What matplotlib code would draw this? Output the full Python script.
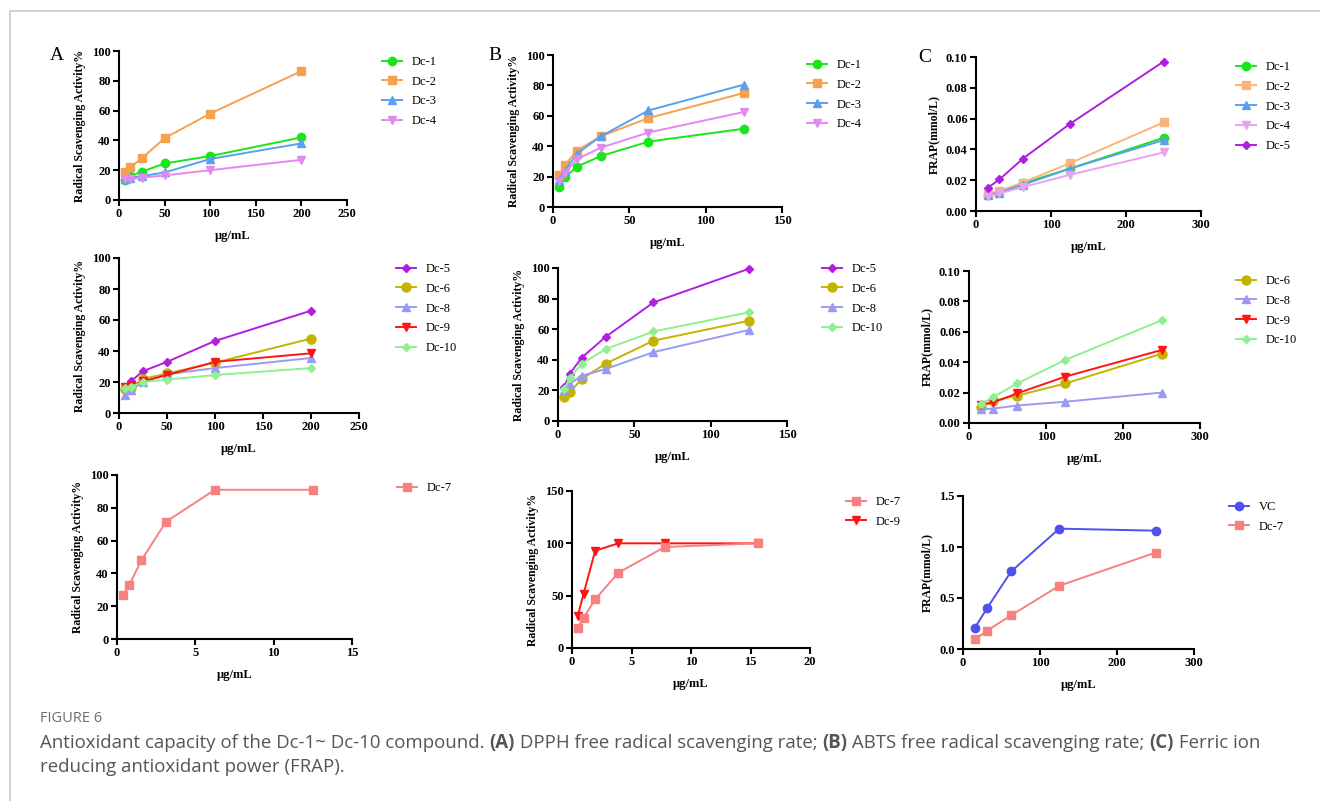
"""Figure 6 — antioxidant capacity of Dc-1 ~ Dc-10 (DPPH, ABTS, FRAP)."""

import matplotlib
matplotlib.use("Agg")
import matplotlib.pyplot as plt
from matplotlib.patches import Rectangle
from matplotlib.ticker import FormatStrFormatter

W, H = 1320, 801

# ---- data -------------------------------------------------------------
dpph_x = [6.25, 12.5, 25, 50, 100, 200]
dpph_dc1 = [13.5, 16, 19, 24.5, 29.5, 42]
dpph_dc2 = [18.5, 22, 28, 41.5, 58, 86.5]
dpph_dc3 = [14, 15, 16, 18.5, 27.5, 38]
dpph_dc4 = [14, 14, 15, 16.5, 20, 27]
dpph_dc5 = [16.5, 20.5, 27, 33, 46.5, 66]
dpph_dc6 = [15.5, 16, 22, 25.5, 32.5, 48]
dpph_dc8 = [11.5, 15, 20, 25, 29, 35.5]
dpph_dc9 = [17, 17.5, 20.5, 24.5, 33, 38.5]
dpph_dc10 = [16, 17, 20, 21.5, 24.5, 29]
dpph7_x = [0.39, 0.78, 1.56, 3.125, 6.25, 12.5]
dpph_dc7 = [27, 33, 48, 71.5, 91, 91]

abts_x = [3.9, 7.8, 15.6, 31.25, 62.5, 125]
abts_dc1 = [13, 19.5, 26.5, 33.5, 43, 51.5]
abts_dc2 = [21, 27.5, 37, 46.5, 58.5, 75]
abts_dc3 = [18, 24, 35, 46.5, 63.5, 80.5]
abts_dc4 = [17, 22.5, 31.5, 39, 49, 62.5]
abts_dc5 = [22, 31, 41.5, 55, 77.5, 99.5]
abts_dc6 = [15.5, 19, 27.5, 37.5, 52.5, 65.5]
abts_dc8 = [20.5, 24.5, 29.5, 34, 45, 59.5]
abts_dc10 = [21, 28, 37.5, 47, 58.5, 71]
abts7_x = [0.49, 0.98, 1.95, 3.9, 7.8, 15.6]
abts_dc7 = [19.5, 29, 46.5, 72, 96.5, 100]
abts_dc9 = [31, 52, 93, 100, 100, 100]

frap_x = [15.6, 31.25, 62.5, 125, 250]
frap_dc1 = [0.0105, 0.0125, 0.018, 0.0275, 0.0475]
frap_dc2 = [0.011, 0.013, 0.0185, 0.031, 0.0575]
frap_dc3 = [0.0105, 0.012, 0.017, 0.0275, 0.046]
frap_dc4 = [0.0095, 0.0115, 0.0155, 0.0235, 0.038]
frap_dc5 = [0.015, 0.0205, 0.034, 0.0565, 0.097]
frap_dc6 = [0.0105, 0.0145, 0.018, 0.026, 0.0455]
frap_dc8 = [0.009, 0.0095, 0.0115, 0.014, 0.02]
frap_dc9 = [0.012, 0.0135, 0.0195, 0.0305, 0.048]
frap_dc10 = [0.0125, 0.017, 0.026, 0.0415, 0.0675]
frap_vc = [0.21, 0.40, 0.76, 1.18, 1.16]
frap_dc7 = [0.095, 0.18, 0.33, 0.62, 0.945]

# ---- styles -----------------------------------------------------------
STYLE = {
    "Dc-1": ("#19e619", "o", 6),
    "Dc-2": ("#f7a050", "s", 6),
    "Dc-3": ("#5aa0f0", "^", 6),
    "Dc-4": ("#e08af0", "v", 6),
    "Dc-5": ("#b01ee0", "D", 4.5),
    "Dc-6": ("#c4b400", "o", 6.5),
    "Dc-7": ("#f78080", "s", 6),
    "Dc-8": ("#9a9af5", "^", 6),
    "Dc-9": ("#ff1414", "v", 6),
    "Dc-10": ("#8ef08e", "D", 4.5),
    "VC": ("#5050ee", "o", 6),
}
STYLE_C = dict(STYLE)
STYLE_C["Dc-2"] = ("#f9b47c", "s", 6)
STYLE_C["Dc-4"] = ("#e8a2f2", "v", 6)

SERIF = "Liberation Serif"
YL_RSA = "Radical Scavenging Activity%"
YL_FRAP = "FRAP(mmol/L)"
LEG_KW = dict(loc="upper left", frameon=False,
              prop={"family": SERIF, "size": 9}, handlelength=1.6,
              handletextpad=0.8, labelspacing=0.62, borderaxespad=0,
              borderpad=0)

fig = plt.figure(figsize=(W / 100, H / 100), dpi=100)

# page frame
fig.patches.append(Rectangle((10 / W, -0.1), 1.2, 1 - 11 / H + 0.1,
                             transform=fig.transFigure, fill=False,
                             edgecolor="#c8c8c8", linewidth=1.2))


def add_panel(rect, series, xlim, xticks, ylim, yticks, ylabel,
              legend_xy, styles=STYLE, yfmt=None, legend_order=None):
    left, right, top, bottom = rect
    ax = fig.add_axes([left / W, 1 - bottom / H, (right - left) / W,
                       (bottom - top) / H])
    for name, xs, ys in series:
        c, m, ms = styles[name]
        ax.plot(xs, ys, color=c, marker=m, markersize=ms, linewidth=1.4,
                label=name, clip_on=False)
    ax.set_xlim(*xlim)
    ax.set_ylim(*ylim)
    ax.set_xticks(xticks)
    ax.set_yticks(yticks)
    if yfmt:
        ax.yaxis.set_major_formatter(FormatStrFormatter(yfmt))
    for s in ("top", "right"):
        ax.spines[s].set_visible(False)
    for s in ("left", "bottom"):
        ax.spines[s].set_linewidth(1.5)
    ax.tick_params(direction="out", length=4, width=1.5, pad=2)
    for lab in ax.get_xticklabels() + ax.get_yticklabels():
        lab.set_fontfamily(SERIF)
        lab.set_fontweight("bold")
        lab.set_fontsize(9)
    ax.set_xlabel("μg/mL", fontfamily=SERIF, fontweight="bold", fontsize=9,
                  labelpad=7)
    ax.set_ylabel(ylabel, fontfamily=SERIF, fontweight="bold", fontsize=8.5,
                  labelpad=4)
    h, l = ax.get_legend_handles_labels()
    if legend_order:
        h = [h[i] for i in legend_order]
        l = [l[i] for i in legend_order]
    ax.legend(h, l, bbox_to_anchor=(legend_xy[0] / W, 1 - legend_xy[1] / H),
              bbox_transform=fig.transFigure, **LEG_KW)
    return ax


# Column A: DPPH
add_panel((119, 347, 51, 200),
          [("Dc-1", dpph_x, dpph_dc1), ("Dc-2", dpph_x, dpph_dc2),
           ("Dc-3", dpph_x, dpph_dc3), ("Dc-4", dpph_x, dpph_dc4)],
          (0, 250), range(0, 251, 50), (0, 100), range(0, 101, 20),
          YL_RSA, (382, 56))
add_panel((119, 359, 258, 413),
          [("Dc-5", dpph_x, dpph_dc5), ("Dc-6", dpph_x, dpph_dc6),
           ("Dc-8", dpph_x, dpph_dc8), ("Dc-9", dpph_x, dpph_dc9),
           ("Dc-10", dpph_x, dpph_dc10)],
          (0, 250), range(0, 251, 50), (0, 100), range(0, 101, 20),
          YL_RSA, (396, 263))
add_panel((117, 352, 475, 639),
          [("Dc-7", dpph7_x, dpph_dc7)],
          (0, 15), range(0, 16, 5), (0, 100), range(0, 101, 20),
          YL_RSA, (397, 482))

# Column B: ABTS
add_panel((553, 782, 55, 207),
          [("Dc-1", abts_x, abts_dc1), ("Dc-2", abts_x, abts_dc2),
           ("Dc-3", abts_x, abts_dc3), ("Dc-4", abts_x, abts_dc4)],
          (0, 150), range(0, 151, 50), (0, 100), range(0, 101, 20),
          YL_RSA, (807, 59))
add_panel((558, 787, 268, 421),
          [("Dc-5", abts_x, abts_dc5), ("Dc-6", abts_x, abts_dc6),
           ("Dc-8", abts_x, abts_dc8), ("Dc-10", abts_x, abts_dc10)],
          (0, 150), range(0, 151, 50), (0, 100), range(0, 101, 20),
          YL_RSA, (822, 263))
add_panel((572, 810, 491, 648),
          [("Dc-9", abts7_x, abts_dc9), ("Dc-7", abts7_x, abts_dc7)],
          (0, 20), range(0, 21, 5), (0, 150), range(0, 151, 50),
          YL_RSA, (846, 496), legend_order=[1, 0])

# Column C: FRAP
add_panel((976, 1201, 57, 211),
          [("Dc-1", frap_x, frap_dc1), ("Dc-2", frap_x, frap_dc2),
           ("Dc-3", frap_x, frap_dc3), ("Dc-4", frap_x, frap_dc4),
           ("Dc-5", frap_x, frap_dc5)],
          (0, 300), range(0, 301, 100), (0, 0.10),
          [0, 0.02, 0.04, 0.06, 0.08, 0.10],
          YL_FRAP, (1236, 61), styles=STYLE_C, yfmt="%.2f")
add_panel((969, 1200, 271, 423),
          [("Dc-6", frap_x, frap_dc6), ("Dc-8", frap_x, frap_dc8),
           ("Dc-9", frap_x, frap_dc9), ("Dc-10", frap_x, frap_dc10)],
          (0, 300), range(0, 301, 100), (0, 0.10),
          [0, 0.02, 0.04, 0.06, 0.08, 0.10],
          YL_FRAP, (1236, 275), yfmt="%.2f")
add_panel((963, 1194, 496, 649),
          [("VC", frap_x, frap_vc), ("Dc-7", frap_x, frap_dc7)],
          (0, 300), range(0, 301, 100), (0, 1.5), [0, 0.5, 1.0, 1.5],
          YL_FRAP, (1229, 501), yfmt="%.1f")

# panel letters
for letter, (px, py) in {"A": (57, 56), "B": (495, 56), "C": (925, 58)}.items():
    fig.text(px / W, 1 - py / H, letter, fontfamily=SERIF, fontsize=14,
             ha="center", va="center")

# caption
CAP = "Open Sans"
CAP_SIZE = 13.4
fig.text(40 / W, 1 - 718 / H, "FIGURE 6", fontfamily=CAP, fontsize=10.5,
         color="#6e6e6e", va="center")
parts = [("Antioxidant capacity of the Dc-1~ Dc-10 compound. ", "normal"),
         ("(A)", "bold"), (" DPPH free radical scavenging rate; ", "normal"),
         ("(B)", "bold"), (" ABTS free radical scavenging rate; ", "normal"),
         ("(C)", "bold"), (" Ferric ion", "normal")]
pieces = [fig.text(0, 1 - 743 / H, txt, fontfamily=CAP, fontsize=CAP_SIZE,
                   color="#555555", fontweight=wt, va="center")
          for txt, wt in parts]
fig.canvas.draw()
renderer = fig.canvas.get_renderer()
x = 40
for t in pieces:
    t.set_x(x / W)
    x += t.get_window_extent(renderer).width
fig.text(40 / W, 1 - 767 / H, "reducing antioxidant power (FRAP).",
         fontfamily=CAP, fontsize=CAP_SIZE, color="#555555", va="center")

fig.savefig("out.png", dpi=100)
